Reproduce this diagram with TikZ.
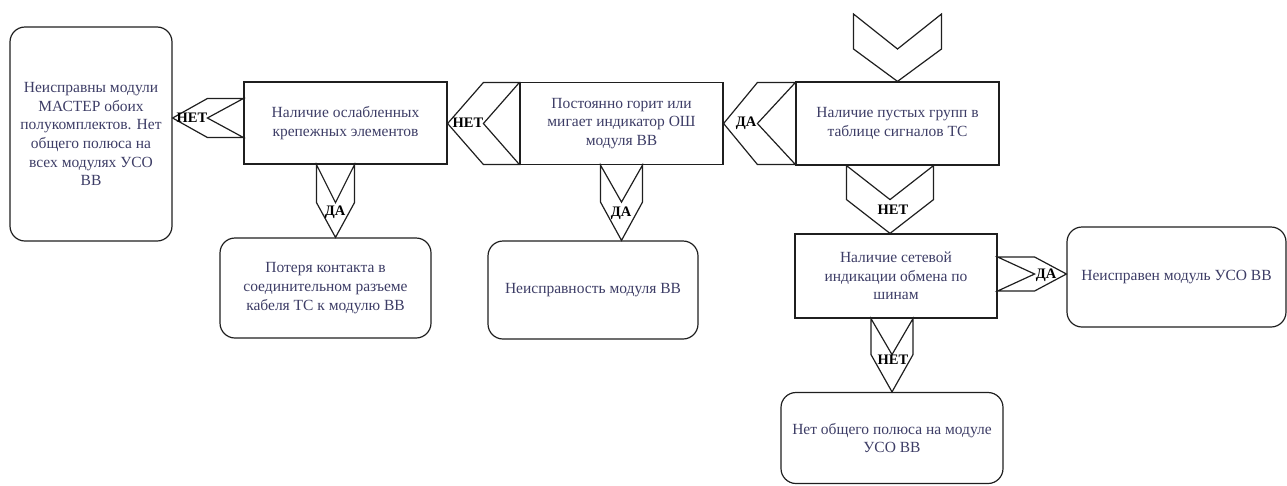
\documentclass[tikz,border=0pt]{standalone}
\usepackage{fontspec}
\setmainfont{Liberation Serif}
\usetikzlibrary{calc}

\definecolor{ink}{rgb}{0.24,0.24,0.40}
\definecolor{edge}{rgb}{0.12,0.12,0.12}

% chevron pointing down: source anchor, target anchor, x-centre point, half width, depth
\newcommand\chevdown[5]{%
  \draw[chev] let \p1=#1, \p2=#2, \p3=#3 in
    (\x3-#4,\y1) -- (\x3,\y1-#5) -- (\x3+#4,\y1) -- (\x3+#4,\y1-#5)
    -- (\x3,\y2) -- (\x3-#4,\y1-#5) -- cycle;}
% chevron pointing left: source anchor, target anchor, y-centre point, half height, depth
\newcommand\chevleft[5]{%
  \draw[chev] let \p1=#1, \p2=#2, \p3=#3 in
    (\x1,\y3+#4) -- (\x1-#5,\y3) -- (\x1,\y3-#4) -- (\x1-#5,\y3-#4)
    -- (\x2,\y3) -- (\x1-#5,\y3+#4) -- cycle;}
% chevron pointing right
\newcommand\chevright[5]{%
  \draw[chev] let \p1=#1, \p2=#2, \p3=#3 in
    (\x1,\y3+#4) -- (\x1+#5,\y3) -- (\x1,\y3-#4) -- (\x1+#5,\y3-#4)
    -- (\x2,\y3) -- (\x1+#5,\y3+#4) -- cycle;}

\begin{document}
\begin{tikzpicture}[x=1pt,y=-1pt,
  chev/.style={draw=edge,line width=1.2pt,line join=miter},
  decision/.style={draw=edge,line width=1.2pt,rectangle,inner sep=0pt,
    align=center,text=ink,font=\fontsize{15.5}{18.7}\selectfont},
  outcome/.style={decision,rounded corners=15pt},
  answer/.style={inner sep=0pt,text=black,font=\fontsize{14.5}{16}\selectfont\bfseries}]
\useasboundingbox (0,0) rectangle (1287,485);

% outcomes and checks
\node[outcome,minimum width=162pt,minimum height=214pt] (A) at (91,134)
  {Неисправны модули\\МАСТЕР обоих\\полукомплектов. Нет\\общего полюса на\\всех модулях УСО\\ВВ};
\node[decision,minimum width=203pt,minimum height=82pt] (B) at (345.5,123)
  {Наличие ослабленных\\крепежных элементов};
\node[decision,minimum width=203pt,minimum height=82pt] (C) at (621.5,123.5)
  {Постоянно горит или\\мигает индикатор ОШ\\модуля ВВ};
\node[decision,minimum width=203pt,minimum height=83pt] (D) at (897.5,123.5)
  {Наличие пустых групп в\\таблице сигналов ТС};
\node[decision,minimum width=202pt,minimum height=84pt] (E) at (896,276)
  {Наличие сетевой\\индикации обмена по\\шинам};
\node[outcome,minimum width=219pt,minimum height=100pt] (F) at (1176.5,277)
  {Неисправен модуль УСО ВВ};
\node[outcome,minimum width=222pt,minimum height=91pt] (G) at (892,438)
  {Нет общего полюса на модуле\\УСО ВВ};
\node[outcome,minimum width=211pt,minimum height=100pt] (H) at (325.5,288)
  {Потеря контакта в\\соединительном разъеме\\кабеля ТС к модулю ВВ};
\node[outcome,minimum width=210pt,minimum height=98pt] (I) at (593,290)
  {Неисправность модуля ВВ};

\coordinate (start) at (897,14);

% chevron connectors
\chevdown{(start)}{(D.north)}{(D.north)}{44pt}{35pt}
\chevleft{(D.west)}{(C.east)}{(D.west)}{41pt}{38pt}
\chevleft{(C.west)}{(B.east)}{(C.west)}{41pt}{36pt}
\chevleft{(B.west)}{(A.east)}{([yshift=5pt]B.west)}{19.5pt}{36pt}
\chevdown{(B.south)}{(H.north)}{($(B.south)!.5!(H.north)$)}{19pt}{38pt}
\chevdown{(C.south)}{(I.north)}{(C.south)}{21pt}{37pt}
\chevdown{(D.south)}{(E.north)}{([xshift=-6pt]E.north)}{43.5pt}{34pt}
\chevright{(E.east)}{(F.west)}{([yshift=2pt]E.east)}{17pt}{37pt}
\chevdown{(E.south)}{(G.north)}{(G.north)}{21pt}{36pt}

% answers
\node[answer] (nAB) at (192,118) {НЕТ};
\node[answer] (nBC) at (468,123) {НЕТ};
\node[answer] (yCD) at (746,123) {ДА};
\node[answer] (yBH) at (335,212) {ДА};
\node[answer] (yCI) at (621,213) {ДА};
\node[answer] (nDE) at (893,210) {НЕТ};
\node[answer] (yEF) at (1046,275) {ДА};
\node[answer] (nEG) at (893,360) {НЕТ};
\end{tikzpicture}
\end{document}
